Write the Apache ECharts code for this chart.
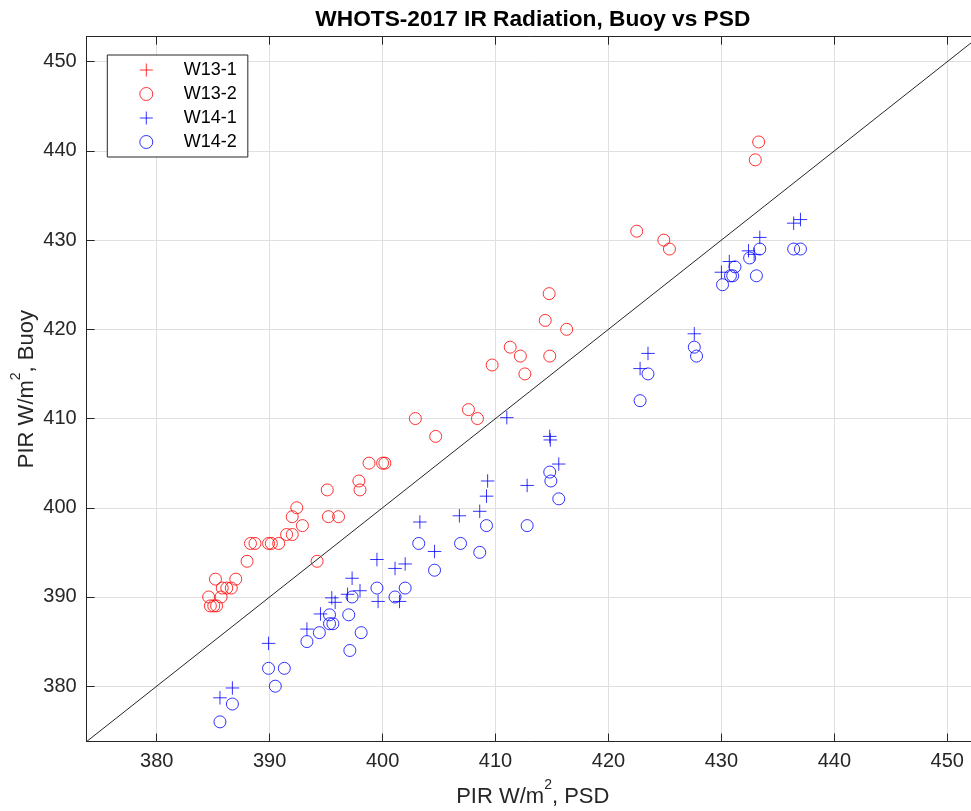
<!DOCTYPE html>
<html>
<head>
<meta charset="utf-8">
<script src="https://cdn.jsdelivr.net/npm/echarts@6/dist/echarts.min.js"></script>
<style>
html,body{margin:0;padding:0;background:#fff;}
#chart{width:971px;height:811px;}
</style>
</head>
<body>
<div id="chart"></div>
<script>
// ---- data (PSD, Buoy) ----
const seriesNames = ['W13-1', 'W13-2', 'W14-1', 'W14-2'];
const w13_1 = [];
const w13_2 = [
  [384.6,390],[384.75,389],[385.05,389],[385.3,389],[385.7,390],[385.2,392],
  [385.8,391],[386.2,391],[386.6,391],[387.0,392],[388.0,394],[388.3,396],
  [388.7,396],[389.9,396],[390.15,396],[390.8,396],[391.5,397],[392.0,397],
  [392.0,399],[392.4,400],[392.9,398],[394.2,394],[395.1,402],[395.2,399],
  [396.1,399],[397.9,403],[398.0,402],[398.8,405],[400.0,405],[400.2,405],
  [402.9,410],[404.7,408],[407.6,411],[408.4,410],[409.7,416],[411.3,418],
  [412.2,417],[412.6,415],[414.4,421],[414.75,424],[414.8,417],[416.3,420],
  [422.5,431],[424.9,430],[425.4,429],[433.0,439],[433.3,441]
];
const w14_1 = [
  [385.6,378.7],[386.7,379.8],[389.9,384.8],[393.3,386.4],[394.5,388.1],
  [395.5,389.9],[395.8,389.4],[396.9,390.3],[397.3,392.1],[398.0,390.7],
  [399.5,394.2],[399.6,389.5],[401.1,393.2],[401.5,389.5],[402.0,393.7],
  [403.3,398.4],[404.6,395.1],[406.8,399.1],[408.6,399.6],[409.2,401.3],
  [409.3,403.0],[411.0,410.1],[412.8,402.5],[414.8,408.0],[414.85,407.6],
  [415.6,404.9],[422.8,415.6],[423.5,417.3],[427.6,419.5],[430.0,426.4],
  [430.7,427.6],[432.4,428.8],[432.9,428.4],[433.4,430.3],[436.4,431.9],
  [437.0,432.3]
];
const w14_2 = [
  [385.6,376],[386.7,378],[389.9,382],[390.5,380],[391.3,382],[393.3,385],
  [394.4,386],[395.3,387],[395.6,387],[395.3,388],[397.0,388],[397.1,384],
  [398.1,386],[397.3,390],[399.5,391],[401.1,390],[402.0,391],[403.2,396],
  [404.6,393],[406.9,396],[408.6,395],[409.2,398],[412.8,398],[414.8,404],
  [414.9,403],[415.6,401],[422.8,412],[423.5,415],[427.6,418],[427.8,417],
  [430.1,425],[430.8,426],[431.0,426],[431.2,427],[432.5,428],[433.1,426],
  [433.4,429],[436.4,429],[437.0,429]
];
const axisRange = [373.8, 452.8];
const oneToOne = [[373.8, 373.8], [452.8, 452.8]];
const titleText = 'WHOTS-2017 IR Radiation, Buoy vs PSD';
const xName = 'PIR W/m{sup|2}, PSD';
const yName = 'PIR W/m{sup|2}, Buoy';

// ---- styles ----
const FONT = '"Liberation Sans", Arial, Helvetica, sans-serif';
const AX = '#262626';
const GRID = '#dfdfdf';
const RED = '#ff0000';
const BLUE = '#0000ff';
const PLUS = 'path://M0,50L100,50M50,0L50,100';

function markerStyle(c) {
  return {color: 'rgba(0,0,0,0)', borderColor: c, borderWidth: 1};
}
const nameStyle = {
  fontSize: 22, color: AX, fontFamily: FONT, lineHeight: 36,
  rich: {sup: {fontSize: 14, lineHeight: 14, verticalAlign: 'top', color: AX, fontFamily: FONT}}
};
function baseAxis(extra) {
  return Object.assign({
    type: 'value', min: axisRange[0], max: axisRange[1], splitNumber: 8,
    axisLine: {show: true, lineStyle: {color: AX, width: 1}},
    axisTick: {show: true, inside: true, length: 8, lineStyle: {color: AX, width: 1}},
    axisLabel: {color: AX, fontSize: 20, fontFamily: FONT, margin: 10, showMinLabel: false, showMaxLabel: false},
    splitLine: {show: true, lineStyle: {color: GRID, width: 1}}
  }, extra);
}

const chart = echarts.init(document.getElementById('chart'), null, {renderer: 'canvas'});
chart.setOption({
  animation: false,
  backgroundColor: '#fff',
  title: {
    text: titleText, left: 532.8, top: 8, padding: 0, textAlign: 'center',
    textStyle: {fontSize: 22.7, fontWeight: 'bold', color: '#000', fontFamily: FONT}
  },
  grid: {left: 86.7, top: 36.7, width: 892.2, height: 704.8, containLabel: false, outerBoundsMode: 'none'},
  legend: {
    orient: 'vertical', left: 107.3, top: 55,
    itemWidth: 13, itemHeight: 13, itemGap: 6,
    padding: [6, 11, 6, 32],
    borderColor: AX, borderWidth: 1, backgroundColor: '#fff',
    selectedMode: false,
    textStyle: {fontSize: 18, lineHeight: 18, color: '#000', fontFamily: FONT, padding: [0, 0, 0, 26]},
    data: [
      {name: seriesNames[0], icon: PLUS, itemStyle: markerStyle(RED)},
      {name: seriesNames[1], icon: 'circle', itemStyle: markerStyle(RED)},
      {name: seriesNames[2], icon: PLUS, itemStyle: markerStyle(BLUE)},
      {name: seriesNames[3], icon: 'circle', itemStyle: markerStyle(BLUE)}
    ]
  },
  xAxis: [
    baseAxis({position: 'bottom', name: xName, nameLocation: 'middle', nameGap: 37, nameMoveOverlap: false, nameTextStyle: nameStyle}),
    baseAxis({position: 'top', axisLabel: {show: false}, splitLine: {show: false}})
  ],
  yAxis: [
    baseAxis({position: 'left', name: yName, nameLocation: 'middle', nameGap: 42, nameRotate: 90, nameMoveOverlap: false, nameTextStyle: nameStyle})
  ],
  series: [
    {name: seriesNames[0], type: 'scatter', data: w13_1, symbol: PLUS, symbolSize: 13.5, itemStyle: markerStyle(RED), emphasis: {disabled: true}},
    {name: seriesNames[1], type: 'scatter', data: w13_2, symbol: 'circle', symbolSize: 12, itemStyle: markerStyle(RED), emphasis: {disabled: true}},
    {name: seriesNames[2], type: 'scatter', data: w14_1, symbol: PLUS, symbolSize: 13.5, itemStyle: markerStyle(BLUE), emphasis: {disabled: true}},
    {name: seriesNames[3], type: 'scatter', data: w14_2, symbol: 'circle', symbolSize: 12, itemStyle: markerStyle(BLUE), emphasis: {disabled: true}},
    {name: '1:1', type: 'line', data: oneToOne, symbol: 'none', silent: true, z: 1,
     lineStyle: {color: AX, width: 1}, emphasis: {disabled: true}}
  ]
});
</script>
</body>
</html>
